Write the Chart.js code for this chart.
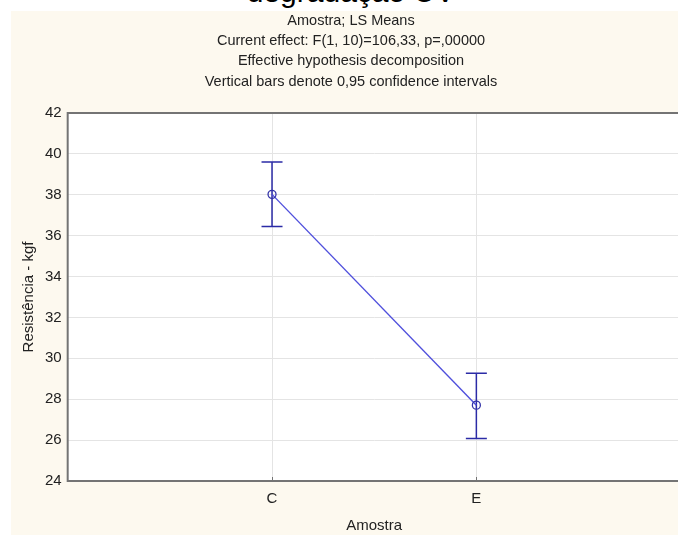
<!DOCTYPE html>
<html>
<head>
<meta charset="utf-8">
<script src="https://cdn.jsdelivr.net/npm/chart.js@4"></script>
<style>
  html, body { margin: 0; padding: 0; background: #fff; }
  body { width: 678px; height: 535px; position: relative; overflow: hidden; font-family: 'Liberation Sans', Arial, sans-serif; }
  #topTitle { position: absolute; left: 151px; width: 400px; top: -23px; text-align: center; font-size: 30px; line-height: 30px; color: #000; }
  /* plot runs slightly past the right edge of the window, as in the original */
  #wrap { position: absolute; left: 11px; top: 11px; width: 675px; height: 524px; background: #fdf9ef; }
</style>
</head>
<body>
<div id="topTitle">degradação UV</div>
<div id="wrap"><canvas id="chart"></canvas></div>
<script>
// categories and LS means with 0.95 confidence limits
const categories = ['C', 'E']
const means = [38.02, 27.71]
const lower = [36.45, 26.08]
const upper = [39.6, 29.27]
const yTicks = [24, 26, 28, 30, 32, 34, 36, 38, 40, 42]
const subtitle = [
  'Amostra; LS Means',
  'Current effect: F(1, 10)=106,33, p=,00000',
  'Effective hypothesis decomposition',
  'Vertical bars denote 0,95 confidence intervals'
]

const font = "'Liberation Sans', Arial, sans-serif"

// white plot area + box (top, left, bottom)
const plotBox = {
  id: 'plotBox',
  beforeDraw(chart) {
    const { ctx, chartArea: a } = chart
    ctx.save()
    ctx.fillStyle = '#ffffff'
    ctx.fillRect(a.left, a.top, a.right - a.left, a.bottom - a.top)
    ctx.restore()
  },
  afterDatasetsDraw(chart) {
    const { ctx, chartArea: a, scales } = chart
    ctx.save()
    ctx.strokeStyle = '#747474'
    ctx.lineWidth = 2
    ctx.beginPath()
    ctx.moveTo(a.right + 2, a.top)
    ctx.lineTo(a.left, a.top)
    ctx.lineTo(a.left, a.bottom)
    ctx.lineTo(a.right + 2, a.bottom)
    ctx.stroke()
    // short inner ticks on the category axis
    ctx.lineWidth = 1
    ctx.beginPath()
    categories.forEach((c, i) => {
      const x = Math.round(scales.x.getPixelForValue(i + 1)) + 0.5
      ctx.moveTo(x, a.bottom)
      ctx.lineTo(x, a.bottom - 4)
    })
    ctx.stroke()
    ctx.restore()
  }
}

// header lines above the plot
const header = {
  id: 'header',
  afterDraw(chart) {
    const { ctx } = chart
    ctx.save()
    ctx.fillStyle = '#222'
    ctx.font = '14.5px ' + font
    ctx.textAlign = 'center'
    ctx.textBaseline = 'middle'
    subtitle.forEach((t, i) => ctx.fillText(t, 340, 9.5 + i * 20.4))
    ctx.restore()
  }
}

// vertical confidence bars
const errorBars = {
  id: 'errorBars',
  beforeDatasetsDraw(chart) {
    const { ctx, scales } = chart
    ctx.save()
    ctx.strokeStyle = '#2b2ba6'
    ctx.lineWidth = 1.5
    categories.forEach((c, i) => {
      const x = scales.x.getPixelForValue(i + 1)
      const yl = scales.y.getPixelForValue(lower[i])
      const yu = scales.y.getPixelForValue(upper[i])
      ctx.beginPath()
      ctx.moveTo(x, yu); ctx.lineTo(x, yl)
      ctx.moveTo(x - 10.5, yu); ctx.lineTo(x + 10.5, yu)
      ctx.moveTo(x - 10.5, yl); ctx.lineTo(x + 10.5, yl)
      ctx.stroke()
    })
    ctx.restore()
  }
}

new Chart(document.getElementById('chart'), {
  type: 'scatter',
  data: {
    datasets: [{
      data: means.map((m, i) => ({ x: i + 1, y: m })),
      showLine: true,
      borderColor: '#4f4fdc',
      borderWidth: 1.4,
      pointRadius: 4,
      pointBorderWidth: 1.3,
      pointBorderColor: '#3434a8',
      pointBackgroundColor: 'rgba(0,0,0,0)'
    }]
  },
  options: {
    responsive: true,
    maintainAspectRatio: false,
    animation: false,
    layout: { padding: { left: 4, right: -7, top: 102, bottom: 0 } },
    plugins: {
      legend: { display: false },
      tooltip: { enabled: false },
      title: { display: false }
    },
    scales: {
      x: {
        type: 'linear',
        min: 0,
        max: 3,
        afterBuildTicks: s => { s.ticks = categories.map((c, i) => ({ value: i + 1 })) },
        ticks: {
          color: '#222',
          font: { family: font, size: 15 },
          padding: 9,
          callback: v => categories[v - 1]
        },
        grid: { color: '#e4e4e4', drawTicks: false },
        border: { display: false },
        title: { display: true, text: 'Amostra', color: '#222', font: { family: font, size: 15 }, padding: { top: 0, bottom: 0 } }
      },
      y: {
        min: 24,
        max: 42,
        afterBuildTicks: s => { s.ticks = yTicks.map(v => ({ value: v })) },
        ticks: { color: '#222', font: { family: font, size: 15 }, padding: 6 },
        grid: { color: '#e4e4e4', drawTicks: false },
        border: { display: false },
        title: { display: true, text: 'Resistência - kgf', color: '#222', font: { family: font, size: 15 }, padding: { top: 5, bottom: 1 } }
      }
    }
  },
  plugins: [plotBox, errorBars, header]
})
</script>
</body>
</html>
